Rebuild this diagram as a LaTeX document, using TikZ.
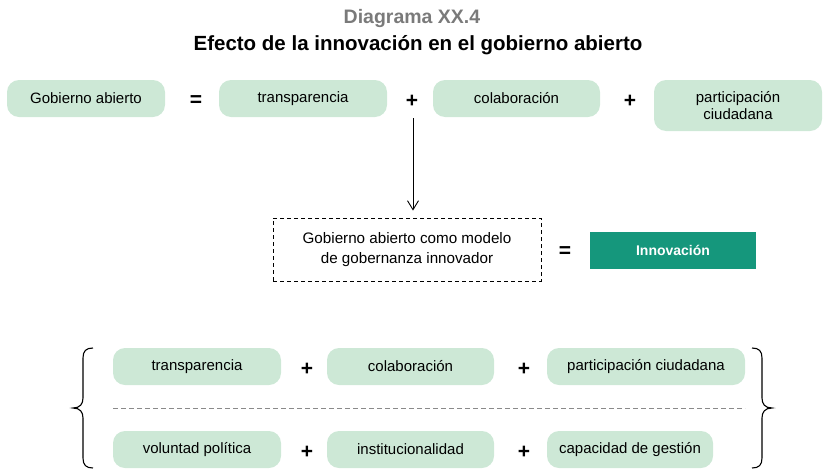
\documentclass[tikz,border=0pt]{standalone}
\usepackage{fontspec}
\setmainfont{Liberation Sans}
\usetikzlibrary{arrows.meta}
\definecolor{boxgreen}{HTML}{CDE8D6}
\definecolor{teal}{HTML}{15977C}
\definecolor{titlegray}{HTML}{7A7A7A}
\definecolor{dashgray}{HTML}{8A8A8A}
\begin{document}
\begin{tikzpicture}[x=1pt,y=-1pt,
  gbox/.style={fill=boxgreen, rounded corners=12pt, minimum height=37pt, inner sep=0pt, align=center, font=\fontsize{15}{16.5}\selectfont},
  op/.style={inner sep=0pt, font=\fontsize{21}{21}\selectfont\bfseries},
  dbox/.style={draw, dashed, dash pattern=on 4pt off 3pt, line width=0.9pt, minimum width=268pt, minimum height=63pt, align=center, font=\fontsize{15.2}{20}\selectfont},
  tbox/.style={fill=teal, text=white, minimum width=166pt, minimum height=37pt, font=\fontsize{14}{16}\selectfont\bfseries},
  arr/.style={line width=0.9pt, -{Straight Barb[length=9pt,width=11pt,line width=0.9pt]}},
  brace/.style={line width=1.1pt}
]
\useasboundingbox (0,0) rectangle (825,469);

% titles
\node[font=\fontsize{19.5}{20}\selectfont\bfseries, text=titlegray] (t1) at (412,18) {Diagrama XX.4};
\node[font=\fontsize{20.5}{22}\selectfont\bfseries] (t2) at (418,45) {Efecto de la innovación en el gobierno abierto};

% row 1
\node[gbox, minimum width=158pt] (ga) at (86,98.5) {Gobierno abierto};
\node[op] (eq1) at (196,101) {=};
\node[gbox, minimum width=168pt] (tr1) at (303,98.5) {transparencia};
\node[op] (p1) at (412,101) {+};
\node[gbox, minimum width=167pt] (co1) at (516.5,98.5) {colaboración};
\node[op] (p2) at (630,101) {+};
\node[gbox, minimum width=168pt, minimum height=51pt] (pa1) at (738,105.5) {participación\\ciudadana};

% middle
\node[dbox] (gm) at (407,249.5) {Gobierno abierto como modelo\\de gobernanza innovador};
\node[op] (eq2) at (565,252) {=};
\node[tbox] (inn) at (673,250.5) {Innovación};

\coordinate (a0) at (413,118);
\draw[arr, shorten >=7pt] (a0) -- (a0 |- gm.north);

% bottom rows
\node[gbox, minimum width=168pt] (trA) at (197,366.5) {transparencia};
\node[op] (pA1) at (307,369) {+};
\node[gbox, minimum width=167pt] (coA) at (410.5,366.5) {colaboración};
\node[op] (pA2) at (524,369) {+};
\node[gbox, minimum width=198pt] (paA) at (646,366.5) {participación ciudadana};

\node[gbox, minimum width=168pt] (voB) at (197,449.5) {voluntad política};
\node[op] (pB1) at (307,452) {+};
\node[gbox, minimum width=167pt] (inB) at (410.5,449.5) {institucionalidad};
\node[op] (pB2) at (524,452) {+};
\node[gbox, minimum width=166pt] (caB) at (630,449.5) {capacidad de gestión};

\coordinate (dl) at (113,408);
\coordinate (dr) at (745,408);
\draw[dashgray, line width=1pt, dash pattern=on 5pt off 3pt] (dl) -- (dr);

% braces
\draw[brace] (93,348) .. controls (86,348) and (83,351) .. (83,358) -- (83,398)
  .. controls (83,404) and (80,408) .. (73,408)
  .. controls (80,408) and (83,412) .. (83,418) -- (83,458)
  .. controls (83,465) and (86,468) .. (93,468);
\draw[brace] (752,348) .. controls (759,348) and (762,351) .. (762,358) -- (762,398)
  .. controls (762,404) and (765,408) .. (772,408)
  .. controls (765,408) and (762,412) .. (762,418) -- (762,458)
  .. controls (762,465) and (759,468) .. (752,468);
\end{tikzpicture}
\end{document}
